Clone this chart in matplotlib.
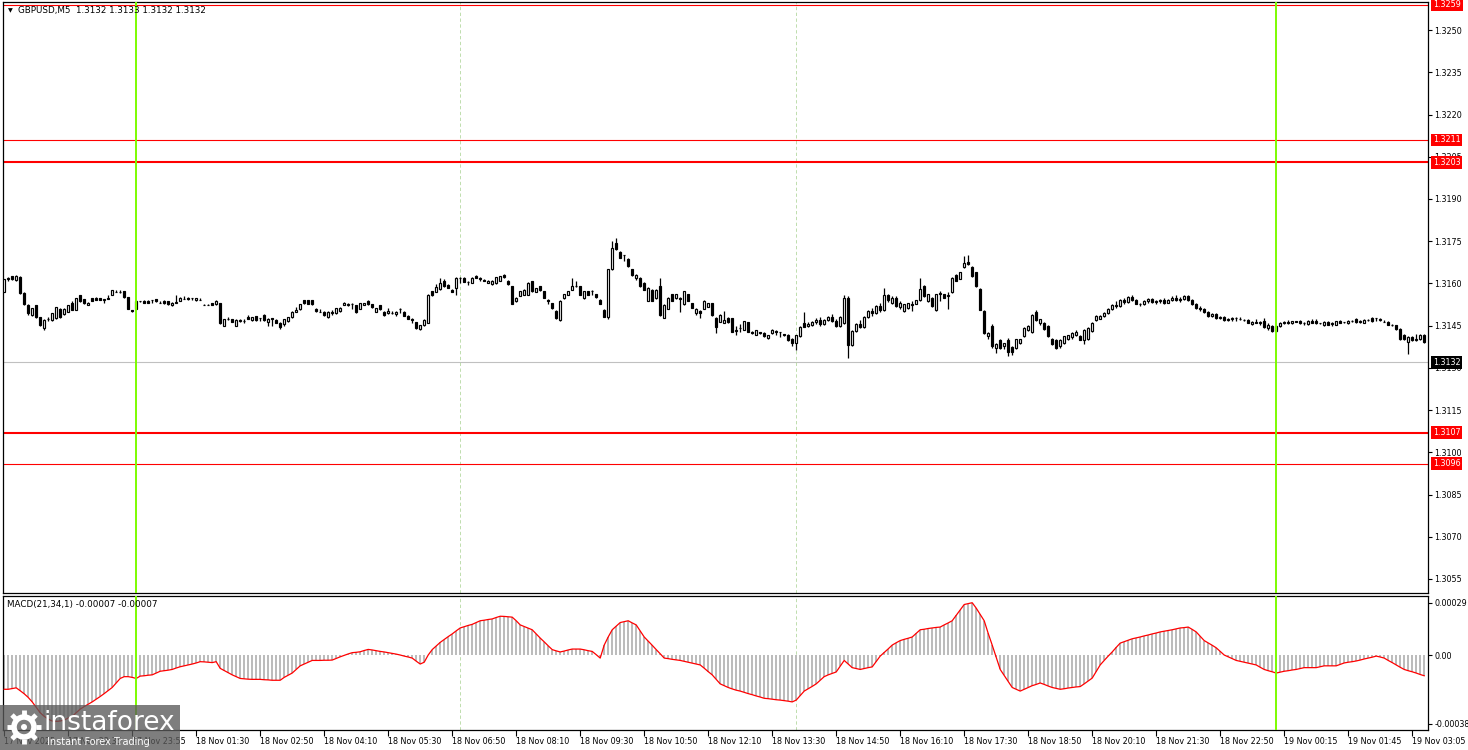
#!/usr/bin/env python3
import numpy as np
import matplotlib
matplotlib.use('Agg')
import matplotlib.pyplot as plt
from matplotlib.patches import Rectangle, Circle
from matplotlib.transforms import blended_transform_factory

# GBPUSD M5 candles (bar by bar)
open_ = [
    1.31570,1.31614,1.31626,1.31612,1.31622,1.31566,1.31524,1.31488,1.31522,1.31480,
    1.31440,1.31472,1.31470,1.31476,1.31510,1.31490,1.31500,1.31530,1.31506,1.31558,
    1.31544,1.31524,1.31548,1.31548,1.31548,1.31540,1.31546,1.31560,1.31570,1.31569,
    1.31572,1.31551,1.31504,1.31510,1.31536,1.31538,1.31538,1.31540,1.31544,1.31532,
    1.31538,1.31536,1.31523,1.31532,1.31538,1.31546,1.31550,1.31548,1.31541,1.31542,
    1.31524,1.31524,1.31530,1.31526,1.31530,1.31450,1.31473,1.31473,1.31450,1.31466,
    1.31468,1.31482,1.31470,1.31484,1.31476,1.31488,1.31462,1.31476,1.31470,1.31460,
    1.31456,1.31466,1.31480,1.31500,1.31508,1.31540,1.31540,1.31540,1.31510,1.31500,
    1.31500,1.31480,1.31496,1.31496,1.31502,1.31524,1.31522,1.31528,1.31522,1.31510,
    1.31524,1.31536,1.31526,1.31500,1.31522,1.31500,1.31494,1.31494,1.31490,1.31510,
    1.31500,1.31486,1.31474,1.31462,1.31438,1.31452,1.31460,1.31572,1.31570,1.31580,
    1.31610,1.31596,1.31578,1.31582,1.31618,1.31620,1.31606,1.31602,1.31628,1.31619,
    1.31612,1.31602,1.31598,1.31600,1.31610,1.31630,1.31610,1.31590,1.31536,1.31556,
    1.31560,1.31560,1.31608,1.31570,1.31590,1.31572,1.31540,1.31530,1.31502,1.31470,
    1.31548,1.31560,1.31578,1.31592,1.31590,1.31548,1.31572,1.31574,1.31562,1.31542,
    1.31506,1.31482,1.31650,1.31742,1.31713,1.31700,1.31688,1.31650,1.31620,1.31620,
    1.31602,1.31538,1.31578,1.31548,1.31590,1.31478,1.31510,1.31562,1.31548,1.31550,
    1.31526,1.31562,1.31530,1.31494,1.31502,1.31510,1.31518,1.31530,1.31478,1.31464,
    1.31460,1.31478,1.31476,1.31430,1.31440,1.31436,1.31462,1.31428,1.31418,1.31426,
    1.31424,1.31406,1.31424,1.31430,1.31426,1.31420,1.31418,1.31404,1.31388,1.31412,
    1.31458,1.31448,1.31454,1.31462,1.31470,1.31456,1.31470,1.31480,1.31466,1.31450,
    1.31460,1.31550,1.31382,1.31430,1.31456,1.31444,1.31480,1.31502,1.31496,1.31520,
    1.31506,1.31560,1.31530,1.31550,1.31516,1.31502,1.31512,1.31526,1.31528,1.31542,
    1.31591,1.31537,1.31549,1.31507,1.31561,1.31561,1.31555,1.31569,1.31629,1.31617,
    1.31660,1.31677,1.31660,1.31639,1.31579,1.31501,1.31412,1.31448,1.31370,1.31400,
    1.31376,1.31400,1.31374,1.31370,1.31388,1.31412,1.31436,1.31428,1.31500,1.31458,
    1.31460,1.31450,1.31402,1.31400,1.31376,1.31388,1.31404,1.31408,1.31416,1.31414,
    1.31400,1.31402,1.31430,1.31470,1.31474,1.31486,1.31496,1.31508,1.31524,1.31520,
    1.31542,1.31534,1.31552,1.31540,1.31528,1.31526,1.31538,1.31544,1.31534,1.31538,
    1.31542,1.31532,1.31540,1.31550,1.31540,1.31546,1.31556,1.31540,1.31526,1.31512,
    1.31510,1.31498,1.31484,1.31492,1.31476,1.31482,1.31470,1.31472,1.31478,1.31472,
    1.31470,1.31470,1.31456,1.31464,1.31460,1.31468,1.31440,1.31450,1.31432,1.31448,
    1.31460,1.31464,1.31458,1.31466,1.31466,1.31458,1.31456,1.31468,1.31466,1.31458,
    1.31452,1.31464,1.31456,1.31454,1.31468,1.31462,1.31458,1.31468,1.31472,1.31464,
    1.31460,1.31470,1.31476,1.31476,1.31470,1.31464,1.31464,1.31454,1.31452,1.31438,
    1.31416,1.31392,1.31410,1.31400,1.31402,1.31416,
]
high = [
    1.31616,1.31622,1.31628,1.31630,1.31625,1.31568,1.31526,1.31514,1.31524,1.31482,
    1.31472,1.31480,1.31496,1.31518,1.31513,1.31512,1.31524,1.31538,1.31550,1.31560,
    1.31546,1.31534,1.31550,1.31552,1.31550,1.31546,1.31560,1.31578,1.31577,1.31575,
    1.31574,1.31553,1.31506,1.31540,1.31538,1.31540,1.31540,1.31541,1.31546,1.31538,
    1.31540,1.31538,1.31534,1.31558,1.31552,1.31556,1.31552,1.31549,1.31550,1.31550,
    1.31526,1.31526,1.31532,1.31540,1.31532,1.31474,1.31480,1.31475,1.31472,1.31473,
    1.31474,1.31488,1.31482,1.31486,1.31477,1.31490,1.31476,1.31477,1.31472,1.31462,
    1.31474,1.31482,1.31502,1.31516,1.31528,1.31542,1.31542,1.31541,1.31512,1.31508,
    1.31502,1.31502,1.31504,1.31514,1.31516,1.31534,1.31530,1.31532,1.31524,1.31532,
    1.31532,1.31540,1.31528,1.31514,1.31524,1.31502,1.31512,1.31502,1.31502,1.31512,
    1.31502,1.31488,1.31478,1.31464,1.31454,1.31472,1.31562,1.31574,1.31598,1.31620,
    1.31614,1.31598,1.31580,1.31622,1.31622,1.31622,1.31608,1.31622,1.31630,1.31622,
    1.31616,1.31612,1.31612,1.31624,1.31628,1.31632,1.31612,1.31592,1.31552,1.31574,
    1.31580,1.31604,1.31610,1.31584,1.31592,1.31574,1.31544,1.31532,1.31504,1.31540,
    1.31564,1.31574,1.31620,1.31608,1.31592,1.31574,1.31574,1.31576,1.31564,1.31544,
    1.31508,1.31652,1.31751,1.31763,1.31716,1.31702,1.31690,1.31652,1.31632,1.31622,
    1.31604,1.31586,1.31580,1.31580,1.31620,1.31526,1.31552,1.31564,1.31564,1.31552,
    1.31574,1.31564,1.31532,1.31512,1.31506,1.31540,1.31532,1.31532,1.31480,1.31490,
    1.31501,1.31480,1.31478,1.31450,1.31456,1.31468,1.31464,1.31430,1.31436,1.31428,
    1.31426,1.31418,1.31438,1.31436,1.31428,1.31422,1.31420,1.31406,1.31418,1.31448,
    1.31498,1.31464,1.31466,1.31476,1.31480,1.31474,1.31484,1.31490,1.31472,1.31486,
    1.31558,1.31554,1.31436,1.31460,1.31470,1.31484,1.31506,1.31512,1.31524,1.31530,
    1.31584,1.31564,1.31554,1.31554,1.31536,1.31528,1.31532,1.31538,1.31542,1.31621,
    1.31595,1.31563,1.31553,1.31563,1.31574,1.31563,1.31570,1.31623,1.31633,1.31641,
    1.31696,1.31701,1.31663,1.31642,1.31582,1.31504,1.31429,1.31456,1.31388,1.31404,
    1.31390,1.31406,1.31378,1.31404,1.31404,1.31444,1.31452,1.31492,1.31504,1.31474,
    1.31462,1.31452,1.31406,1.31404,1.31402,1.31414,1.31418,1.31428,1.31434,1.31418,
    1.31438,1.31444,1.31462,1.31488,1.31488,1.31500,1.31512,1.31528,1.31536,1.31546,
    1.31550,1.31556,1.31558,1.31544,1.31532,1.31542,1.31548,1.31548,1.31540,1.31546,
    1.31550,1.31544,1.31554,1.31558,1.31552,1.31560,1.31558,1.31544,1.31530,1.31520,
    1.31514,1.31502,1.31496,1.31496,1.31486,1.31486,1.31478,1.31482,1.31480,1.31480,
    1.31472,1.31474,1.31468,1.31472,1.31466,1.31476,1.31458,1.31454,1.31452,1.31464,
    1.31468,1.31470,1.31468,1.31468,1.31470,1.31464,1.31470,1.31472,1.31474,1.31460,
    1.31466,1.31468,1.31462,1.31468,1.31470,1.31464,1.31470,1.31470,1.31476,1.31470,
    1.31472,1.31472,1.31480,1.31478,1.31476,1.31470,1.31466,1.31456,1.31454,1.31440,
    1.31420,1.31414,1.31414,1.31420,1.31420,1.31420,
]
low = [
    1.31568,1.31610,1.31612,1.31610,1.31564,1.31524,1.31488,1.31486,1.31478,1.31448,
    1.31436,1.31468,1.31468,1.31474,1.31478,1.31488,1.31498,1.31504,1.31504,1.31534,
    1.31528,1.31522,1.31536,1.31540,1.31540,1.31530,1.31544,1.31558,1.31568,1.31567,
    1.31549,1.31508,1.31500,1.31508,1.31534,1.31530,1.31530,1.31530,1.31534,1.31530,
    1.31528,1.31524,1.31521,1.31530,1.31536,1.31544,1.31542,1.31540,1.31539,1.31540,
    1.31522,1.31522,1.31523,1.31524,1.31456,1.31448,1.31471,1.31462,1.31448,1.31464,
    1.31460,1.31472,1.31468,1.31468,1.31468,1.31468,1.31450,1.31450,1.31458,1.31438,
    1.31450,1.31464,1.31478,1.31498,1.31506,1.31528,1.31526,1.31524,1.31500,1.31498,
    1.31486,1.31478,1.31488,1.31490,1.31500,1.31522,1.31520,1.31510,1.31496,1.31508,
    1.31522,1.31524,1.31514,1.31498,1.31506,1.31486,1.31492,1.31492,1.31486,1.31494,
    1.31484,1.31472,1.31460,1.31438,1.31436,1.31450,1.31458,1.31556,1.31568,1.31578,
    1.31588,1.31582,1.31568,1.31560,1.31602,1.31604,1.31594,1.31600,1.31618,1.31608,
    1.31608,1.31600,1.31594,1.31598,1.31608,1.31620,1.31596,1.31526,1.31534,1.31554,
    1.31558,1.31558,1.31570,1.31568,1.31574,1.31548,1.31528,1.31510,1.31474,1.31468,
    1.31546,1.31558,1.31576,1.31588,1.31558,1.31544,1.31558,1.31560,1.31550,1.31526,
    1.31480,1.31474,1.31648,1.31718,1.31689,1.31679,1.31660,1.31628,1.31612,1.31588,
    1.31576,1.31536,1.31536,1.31546,1.31486,1.31476,1.31508,1.31536,1.31546,1.31500,
    1.31524,1.31536,1.31512,1.31488,1.31478,1.31508,1.31516,1.31486,1.31423,1.31462,
    1.31458,1.31460,1.31426,1.31418,1.31428,1.31434,1.31426,1.31422,1.31416,1.31422,
    1.31410,1.31402,1.31422,1.31416,1.31410,1.31414,1.31396,1.31378,1.31364,1.31410,
    1.31444,1.31444,1.31448,1.31456,1.31450,1.31452,1.31466,1.31462,1.31446,1.31446,
    1.31456,1.31336,1.31376,1.31426,1.31440,1.31440,1.31476,1.31486,1.31492,1.31500,
    1.31502,1.31534,1.31526,1.31516,1.31510,1.31498,1.31510,1.31502,1.31526,1.31538,
    1.31553,1.31535,1.31517,1.31503,1.31537,1.31547,1.31510,1.31565,1.31607,1.31615,
    1.31656,1.31666,1.31624,1.31589,1.31505,1.31421,1.31404,1.31370,1.31354,1.31366,
    1.31368,1.31342,1.31346,1.31366,1.31384,1.31408,1.31432,1.31424,1.31468,1.31454,
    1.31436,1.31408,1.31382,1.31366,1.31372,1.31384,1.31400,1.31404,1.31412,1.31398,
    1.31384,1.31398,1.31426,1.31468,1.31472,1.31482,1.31492,1.31504,1.31514,1.31518,
    1.31528,1.31530,1.31536,1.31526,1.31520,1.31522,1.31530,1.31530,1.31528,1.31532,
    1.31528,1.31530,1.31536,1.31536,1.31534,1.31542,1.31536,1.31522,1.31508,1.31502,
    1.31494,1.31480,1.31480,1.31472,1.31472,1.31466,1.31466,1.31468,1.31468,1.31470,
    1.31468,1.31458,1.31454,1.31458,1.31452,1.31442,1.31436,1.31428,1.31428,1.31446,
    1.31456,1.31456,1.31456,1.31462,1.31456,1.31454,1.31454,1.31458,1.31456,1.31456,
    1.31450,1.31452,1.31450,1.31452,1.31458,1.31460,1.31456,1.31462,1.31460,1.31460,
    1.31458,1.31468,1.31464,1.31466,1.31468,1.31462,1.31452,1.31450,1.31436,1.31400,
    1.31398,1.31350,1.31394,1.31396,1.31400,1.31388,
]
close = [
    1.31614,1.31618,1.31614,1.31628,1.31566,1.31527,1.31494,1.31512,1.31480,1.31451,
    1.31470,1.31475,1.31494,1.31515,1.31480,1.31510,1.31522,1.31506,1.31548,1.31536,
    1.31530,1.31532,1.31538,1.31541,1.31541,1.31543,1.31548,1.31576,1.31570,1.31568,
    1.31551,1.31510,1.31502,1.31538,1.31536,1.31532,1.31532,1.31540,1.31536,1.31532,
    1.31529,1.31526,1.31532,1.31534,1.31550,1.31546,1.31543,1.31548,1.31548,1.31542,
    1.31524,1.31524,1.31524,1.31538,1.31458,1.31472,1.31473,1.31464,1.31470,1.31470,
    1.31466,1.31474,1.31480,1.31470,1.31476,1.31470,1.31474,1.31475,1.31460,1.31446,
    1.31472,1.31480,1.31500,1.31506,1.31526,1.31530,1.31528,1.31526,1.31502,1.31500,
    1.31488,1.31500,1.31498,1.31512,1.31514,1.31532,1.31528,1.31526,1.31498,1.31530,
    1.31530,1.31526,1.31516,1.31512,1.31508,1.31488,1.31502,1.31494,1.31498,1.31510,
    1.31486,1.31474,1.31470,1.31440,1.31452,1.31470,1.31560,1.31558,1.31586,1.31602,
    1.31590,1.31584,1.31570,1.31620,1.31618,1.31606,1.31606,1.31620,1.31620,1.31616,
    1.31610,1.31610,1.31610,1.31622,1.31626,1.31622,1.31598,1.31528,1.31550,1.31572,
    1.31578,1.31602,1.31572,1.31582,1.31576,1.31550,1.31538,1.31512,1.31476,1.31538,
    1.31562,1.31572,1.31590,1.31590,1.31560,1.31572,1.31560,1.31574,1.31552,1.31528,
    1.31482,1.31650,1.31727,1.31721,1.31691,1.31700,1.31662,1.31630,1.31630,1.31590,
    1.31578,1.31584,1.31538,1.31578,1.31488,1.31524,1.31550,1.31538,1.31562,1.31546,
    1.31572,1.31538,1.31514,1.31510,1.31496,1.31538,1.31530,1.31488,1.31446,1.31488,
    1.31470,1.31462,1.31429,1.31436,1.31442,1.31466,1.31428,1.31424,1.31434,1.31424,
    1.31412,1.31416,1.31436,1.31428,1.31426,1.31418,1.31398,1.31388,1.31416,1.31446,
    1.31446,1.31456,1.31462,1.31470,1.31456,1.31470,1.31480,1.31466,1.31450,1.31482,
    1.31550,1.31380,1.31430,1.31456,1.31444,1.31480,1.31502,1.31496,1.31520,1.31506,
    1.31560,1.31540,1.31550,1.31520,1.31532,1.31526,1.31530,1.31524,1.31540,1.31579,
    1.31555,1.31561,1.31519,1.31561,1.31565,1.31549,1.31559,1.31621,1.31609,1.31639,
    1.31672,1.31669,1.31627,1.31591,1.31507,1.31424,1.31424,1.31376,1.31386,1.31370,
    1.31388,1.31358,1.31358,1.31402,1.31402,1.31442,1.31450,1.31488,1.31470,1.31472,
    1.31438,1.31412,1.31386,1.31370,1.31400,1.31412,1.31416,1.31424,1.31428,1.31400,
    1.31436,1.31440,1.31460,1.31486,1.31486,1.31496,1.31508,1.31524,1.31520,1.31542,
    1.31534,1.31552,1.31540,1.31528,1.31528,1.31538,1.31544,1.31534,1.31538,1.31542,
    1.31532,1.31540,1.31550,1.31540,1.31546,1.31556,1.31540,1.31526,1.31512,1.31510,
    1.31498,1.31484,1.31492,1.31476,1.31482,1.31470,1.31472,1.31478,1.31478,1.31472,
    1.31470,1.31460,1.31464,1.31460,1.31462,1.31446,1.31454,1.31432,1.31448,1.31460,
    1.31464,1.31458,1.31466,1.31464,1.31458,1.31460,1.31468,1.31460,1.31458,1.31458,
    1.31464,1.31454,1.31458,1.31466,1.31460,1.31462,1.31468,1.31468,1.31462,1.31466,
    1.31470,1.31470,1.31466,1.31476,1.31472,1.31464,1.31454,1.31452,1.31438,1.31404,
    1.31402,1.31410,1.31398,1.31404,1.31416,1.31392,
]

# MACD(21,34,1) main line, in units of 1e-5
macd_e5 = [
    -19, -19, -18.6, -18.2, -19.8, -21.5, -23.5, -26, -29, -32,
    -34, -35.5, -36.6, -36.8, -36.6, -36, -35, -34, -32, -30,
    -28.6, -27.3, -26, -24.5, -23, -21.4, -19.7, -18, -15.5, -13,
    -12, -12, -12.4, -13, -11.7, -11.5, -11.2, -11, -10, -9,
    -8.7, -8.4, -8, -7.2, -6.5, -6, -5.5, -5, -4.4, -3.7,
    -3.8, -4, -4.2, -3.7, -7.4, -8.6, -9.8, -11, -12, -13,
    -13.2, -13.4, -13.5, -13.5, -13.5, -13.7, -13.8, -14, -14, -14,
    -12.4, -11.2, -10, -8, -6, -5, -4, -3, -3, -3,
    -2.9, -2.9, -2.8, -1.9, -1, -0.2, 0.6, 1.3, 1.5, 1.8,
    2.5, 3.1, 2.8, 2.4, 2, 1.7, 1.3, 0.9, 0.5, 0,
    -0.6, -1.1, -1.7, -3.4, -5, -4, 0, 3, 5, 7,
    8.6, 10.2, 11.7, 13.4, 15, 15.7, 16.4, 17, 18, 19,
    19.3, 19.7, 20, 20.8, 21.5, 21.4, 21.2, 21, 19, 16.7,
    15.8, 14.9, 14, 11.7, 9.4, 7.3, 5.1, 3, 2.3, 1.7,
    2.2, 2.8, 3.3, 3.3, 3.3, 2.9, 2.4, 2, 0.2, -1.7,
    5.5, 10, 14, 16, 18, 18.5, 19, 17.8, 16.7, 13.4,
    10, 7.7, 5.4, 3, 0.7, -1.7, -2, -2.4, -2.7, -3,
    -3.5, -4, -4.5, -5, -5.5, -7.3, -9.2, -11, -13.5, -16,
    -17, -18, -18.8, -19.5, -20, -20.7, -21.4, -22, -22.7, -23.3,
    -24, -24.2, -24.5, -24.8, -25, -25.3, -25.6, -26, -25, -22.5,
    -20, -18.7, -17.4, -16, -14, -12, -11, -10.2, -9.4, -6.2,
    -3, -5, -7, -7.5, -8, -7.5, -7, -6.6, -3.6, -0.6,
    1.4, 3.4, 5.5, 6.8, 8, 8.7, 9.3, 10, 12, 14,
    14.3, 14.7, 15, 15.3, 15.5, 16.7, 17.8, 19, 22, 25,
    28, 28.5, 29, 26, 22.5, 19, 12, 5.5, -1.2, -8,
    -11.3, -14.6, -18, -19, -20, -19, -18, -17, -16.3, -15.5,
    -16.3, -17.2, -18, -18.5, -19, -18.7, -18.3, -18, -17.7, -17.5,
    -16, -14.4, -12.8, -9.2, -5.5, -3, -0.6, 1.7, 4.2, 6.6,
    7.4, 8.2, 9, 9.5, 10, 10.6, 11.1, 11.7, 12.2, 12.8,
    13.2, 13.6, 14, 14.5, 15, 15.2, 15.5, 14.2, 12.8, 10.4,
    8, 6.7, 5.4, 4, 2, 0, -1, -2, -3, -3.5,
    -4, -4.5, -5, -5.5, -6.8, -8, -8.7, -9.3, -10, -9.5,
    -9, -8.7, -8.3, -8, -7.5, -7, -7, -7, -7, -6.5,
    -6, -6, -6, -6, -5.2, -4.4, -4, -3.7, -3.3, -2.8,
    -2.2, -1.7, -1.2, -0.6, -1.1, -1.7, -3, -4.2, -5.5, -6.8,
    -8, -8.7, -9.3, -10, -10.8, -11.5,
]

time_labels = [
    "17 Nov 2025", "17 Nov 22:35", "17 Nov 23:55", "18 Nov 01:30", "18 Nov 02:50",
    "18 Nov 04:10", "18 Nov 05:30", "18 Nov 06:50", "18 Nov 08:10", "18 Nov 09:30",
    "18 Nov 10:50", "18 Nov 12:10", "18 Nov 13:30", "18 Nov 14:50", "18 Nov 16:10",
    "18 Nov 17:30", "18 Nov 18:50", "18 Nov 20:10", "18 Nov 21:30", "18 Nov 22:50",
    "19 Nov 00:15", "19 Nov 01:45", "19 Nov 03:05",
]
label_every = 16

price_ticks = [1.3250, 1.3235, 1.3220, 1.3205, 1.3190, 1.3175, 1.3160,
               1.3145, 1.3130, 1.3115, 1.3100, 1.3085, 1.3070, 1.3055]
macd_ticks = [0.00029, 0.0, -0.00038]
macd_tick_labels = ["0.00029", "0.00", "-0.00038"]

levels = [1.3259, 1.3211, 1.3203, 1.3107, 1.3096]
strong_levels = [1.3203, 1.3107]
current_price = 1.3132
day_start_bars = [33, 318]
grid_bars = [114, 198]

header = "GBPUSD,M5  1.3132 1.3133 1.3132 1.3132"
macd_header = "MACD(21,34,1) -0.00007 -0.00007"

FS = 5.8
W, H = 1468, 750


def px_axes(fig, left, top, right, bottom):
    return fig.add_axes([left / W, 1 - bottom / H, (right - left) / W, (bottom - top) / H])


def style_frame(ax):
    for s in ax.spines.values():
        s.set_color('black')
        s.set_linewidth(0.9)


def draw_candles(ax, o, h, l, c):
    x = np.arange(len(o))
    o, h, l, c = map(np.asarray, (o, h, l, c))
    top = np.maximum(h, np.maximum(o, c))
    bot = np.minimum(l, np.minimum(o, c))
    ax.vlines(x, bot, top, color='black', lw=0.9, zorder=3)
    up = c >= o
    faces = np.where(up, 'white', 'black')
    ax.bar(x, c - o, bottom=o, width=0.62, color=faces, edgecolor='black',
           linewidth=0.85, zorder=4)


def price_box(ax, y, text, fc):
    tr = blended_transform_factory(ax.transAxes, ax.transData)
    ax.text(1.0035, y, text, transform=tr, ha='left', va='center', fontsize=FS,
            color='white', clip_on=False, zorder=10,
            bbox=dict(boxstyle='square,pad=0.22', fc=fc, ec='none'))


def main():
    fig = plt.figure(figsize=(W / 100, H / 100), dpi=100)
    fig.patch.set_facecolor('white')
    n = len(close)
    xlim = (-0.3, n - 0.05)

    ax = px_axes(fig, 3, 2, 1428, 593)
    ax2 = px_axes(fig, 3, 595.5, 1428, 729.5)
    for a in (ax, ax2):
        style_frame(a)
        a.set_xlim(*xlim)

    # price panel
    ax.set_ylim(1.30500, 1.32600)
    draw_candles(ax, open_, high, low, close)
    for lv in levels:
        ax.axhline(lv, color='red', lw=1.5 if lv in strong_levels else 0.8, zorder=2)
    ax.axhline(current_price, color='#c0c0c0', lw=0.8, zorder=1)
    for b in grid_bars:
        ax.axvline(b, color='#b4d8a0', lw=0.6, dashes=(4, 3), zorder=1)
        ax2.axvline(b, color='#b4d8a0', lw=0.6, dashes=(4, 3), zorder=1)
    for b in day_start_bars:
        ax.axvline(b, color='#7cfc00', lw=1.4, zorder=5)
        ax2.axvline(b, color='#7cfc00', lw=1.4, zorder=5)

    ax.yaxis.tick_right()
    ax.set_yticks(price_ticks)
    ax.set_yticklabels(["%.4f" % p for p in price_ticks])
    ax.tick_params(axis='y', direction='out', length=3, width=0.8, pad=1.5,
                   labelsize=FS, colors='black')
    ax.set_xticks([])

    for lv in levels:
        price_box(ax, lv, "%.4f" % lv, 'red')
    price_box(ax, current_price, "%.4f" % current_price, 'black')

    # MACD panel
    macd = np.array(macd_e5) * 1e-5
    xs = np.arange(n)
    ax2.set_ylim(-0.000413, 0.00033)
    ax2.bar(xs, macd, width=0.5, color='#bcbcbc', linewidth=0, zorder=2)
    ax2.plot(xs, macd, color='red', lw=0.9, zorder=3)
    ax2.yaxis.tick_right()
    ax2.set_yticks(macd_ticks)
    ax2.set_yticklabels(macd_tick_labels)
    ax2.tick_params(axis='y', direction='out', length=3, width=0.8, pad=1.5,
                    labelsize=FS, colors='black')

    ticks = list(range(0, n, label_every))[:len(time_labels)]
    ax2.set_xticks(ticks)
    ax2.set_xticklabels(time_labels[:len(ticks)], ha='left')
    ax2.tick_params(axis='x', direction='out', length=4, width=0.8, pad=1.5,
                    labelsize=FS, colors='black')

    # headers
    fig.text(8 / W, 1 - 10.5 / H, u"\u25bc", fontsize=4.5, va='center', ha='left')
    fig.text(18 / W, 1 - 10.5 / H, header, fontsize=6.3, va='center', ha='left')
    fig.text(7 / W, 1 - 605 / H, macd_header, fontsize=6.3, va='center', ha='left')

    # watermark
    wm = fig.add_axes([0, 0, 180 / W, 45 / H])
    wm.set_xlim(0, 180)
    wm.set_ylim(0, 45)
    wm.axis('off')
    wm.add_patch(Rectangle((0, 0), 180, 45, fc='#5a5a5a', ec='none', alpha=0.78))
    wm.add_patch(Circle((24, 23), 10, fc='none', ec='white', lw=4))
    wm.add_patch(Circle((24, 23), 3, fc='white', ec='none'))
    for k in range(8):
        a = k * np.pi / 4
        wm.plot([24 + 12 * np.cos(a), 24 + 17 * np.cos(a)],
                [23 + 12 * np.sin(a), 23 + 17 * np.sin(a)], color='white', lw=3.5,
                solid_capstyle='butt')
    wm.text(44, 27, "instaforex", color='white', fontsize=19, va='center', ha='left')
    wm.text(47, 8, "Instant Forex Trading", color='white', fontsize=7, va='center', ha='left')

    fig.savefig("out.png", dpi=100)


if __name__ == "__main__":
    main()
